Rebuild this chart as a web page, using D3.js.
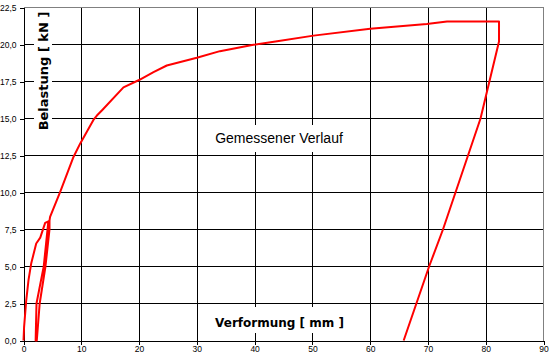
<!DOCTYPE html>
<html>
<head>
<meta charset="utf-8">
<script src="https://cdn.jsdelivr.net/npm/d3@7"></script>
<style>
  html, body { margin: 0; padding: 0; background: #fff; }
  svg { display: block; }
</style>
</head>
<body>
<svg id="chart" width="550" height="356"></svg>
<script>
// ---- data ----
const xTickValues = [0, 10, 20, 30, 40, 50, 60, 70, 80, 90];
const xTickLabels = ["0", "10", "20", "30", "40", "50", "60", "70", "80", "90"];
const yTickValues = [0, 2.5, 5, 7.5, 10, 12.5, 15, 17.5, 20, 22.5];
const yTickLabels = ["0,0", "2,5", "5,0", "7,5", "10,0", "12,5", "15,0", "17,5", "20,0", "22,5"];

// measured curve: deformation [mm] and load [kN]
const deformation = [0, 0.1, 0.47, 0.87, 1.33, 2.2, 2.9, 3.75, 4.3,
  3.5, 2.25, 2.1,
  2.3, 2.8, 3.8, 4.5, 4.5,
  4.6, 6.35, 8.65, 9.8, 12.1, 12.7, 13.6, 17.3, 20, 22.5, 24.8, 30, 34, 39.8, 43.9, 50.2, 60, 69.8, 73.3, 82.3,
  82.3, 79.1, 72.6, 70.2, 68, 65.8];
const load = [0, 0.9, 2.7, 4.1, 5.2, 6.55, 6.95, 7.95, 8.05,
  5.0, 2.5, 0,
  0, 2.5, 5.0, 7.5, 8.1,
  8.35, 10.04, 12.4, 13.3, 14.9, 15.2, 15.56, 17.1, 17.6, 18.13, 18.58, 19.1, 19.55, 19.98, 20.22, 20.6, 21.06, 21.38, 21.55, 21.55,
  20.2, 15.0, 7.5, 5.0, 2.5, 0];

const xTitle = "Verformung [ mm ]";
const yTitle = "Belastung [ kN ]";
const seriesLabel = "Gemessener Verlauf";

// ---- drawing ----
const svg = d3.select("#chart");
const x = d3.scaleLinear().domain([0, 90]).range([23.5, 543.5]);
const y = d3.scaleLinear().domain([0, 22.5]).range([340.5, 7.5]);

// grid
const grid = svg.append("g").attr("shape-rendering", "crispEdges");
grid.selectAll("line.v").data(xTickValues.slice(1, -1)).join("line")
  .attr("x1", d => Math.round(x(d)) + 0.5).attr("x2", d => Math.round(x(d)) + 0.5)
  .attr("y1", y(22.5)).attr("y2", y(0))
  .attr("stroke", "#000").attr("stroke-width", 1);
grid.selectAll("line.h").data(yTickValues.slice(1, -1)).join("line")
  .attr("y1", d => Math.round(y(d) - 0.5) + 0.5).attr("y2", d => Math.round(y(d) - 0.5) + 0.5)
  .attr("x1", x(0)).attr("x2", x(90))
  .attr("stroke", "#000").attr("stroke-width", 1);
// top / right border grey
grid.append("line").attr("x1", x(0)).attr("x2", x(90)).attr("y1", y(22.5)).attr("y2", y(22.5))
  .attr("stroke", "#808080");
grid.append("line").attr("x1", x(90)).attr("x2", x(90)).attr("y1", y(22.5)).attr("y2", y(0))
  .attr("stroke", "#808080");

// axes
const xAxis = d3.axisBottom(x).tickValues(xTickValues)
  .tickFormat((d, i) => xTickLabels[i]).tickSizeInner(4).tickSizeOuter(0).tickPadding(1.5);
const yAxis = d3.axisLeft(y).tickValues(yTickValues)
  .tickFormat((d, i) => yTickLabels[i]).tickSizeInner(4).tickSizeOuter(0).tickPadding(3);

const gx = svg.append("g").attr("transform", `translate(0,${y(0)})`).call(xAxis);
const gy = svg.append("g").attr("transform", `translate(${x(0)},0)`).call(yAxis);
[gx, gy].forEach(g => {
  g.attr("shape-rendering", "crispEdges");
  g.select(".domain").attr("stroke", "#000");
  g.selectAll(".tick line").attr("stroke", "#000");
  g.selectAll(".tick text").attr("fill", "#000")
    .style("font-family", "'Liberation Sans', Arial, sans-serif").style("font-size", "8.5px");
});

// label backgrounds (white boxes over grid)
svg.append("rect").attr("x", 34).attr("y", 10).attr("width", 18).attr("height", 123).attr("fill", "#fff");
svg.append("rect").attr("x", 211).attr("y", 125).attr("width", 137).attr("height", 27).attr("fill", "#fff");
svg.append("rect").attr("x", 212).attr("y", 307).attr("width", 136).attr("height", 26).attr("fill", "#fff");

// curve
const line = d3.line().x(d => x(d[0])).y(d => y(d[1]));
svg.append("path")
  .datum(deformation.map((d, i) => [d, load[i]]))
  .attr("d", line)
  .attr("fill", "none").attr("stroke", "#ff0000").attr("stroke-width", 2)
  .attr("stroke-linejoin", "round");

// texts
svg.append("text").attr("x", 279.5).attr("y", 326.5).attr("text-anchor", "middle")
  .style("font-family", "'DejaVu Sans', Verdana, sans-serif").style("font-weight", "bold")
  .style("font-size", "12px").text(xTitle);
svg.append("text").attr("transform", "translate(48,71) rotate(-90)").attr("text-anchor", "middle")
  .style("font-family", "'DejaVu Sans', Verdana, sans-serif").style("font-weight", "bold")
  .style("font-size", "13px").text(yTitle);
svg.append("text").attr("x", 279).attr("y", 142.5).attr("text-anchor", "middle")
  .style("font-family", "'Liberation Sans', Arial, sans-serif")
  .style("font-size", "14px").text(seriesLabel);
</script>
</body>
</html>
